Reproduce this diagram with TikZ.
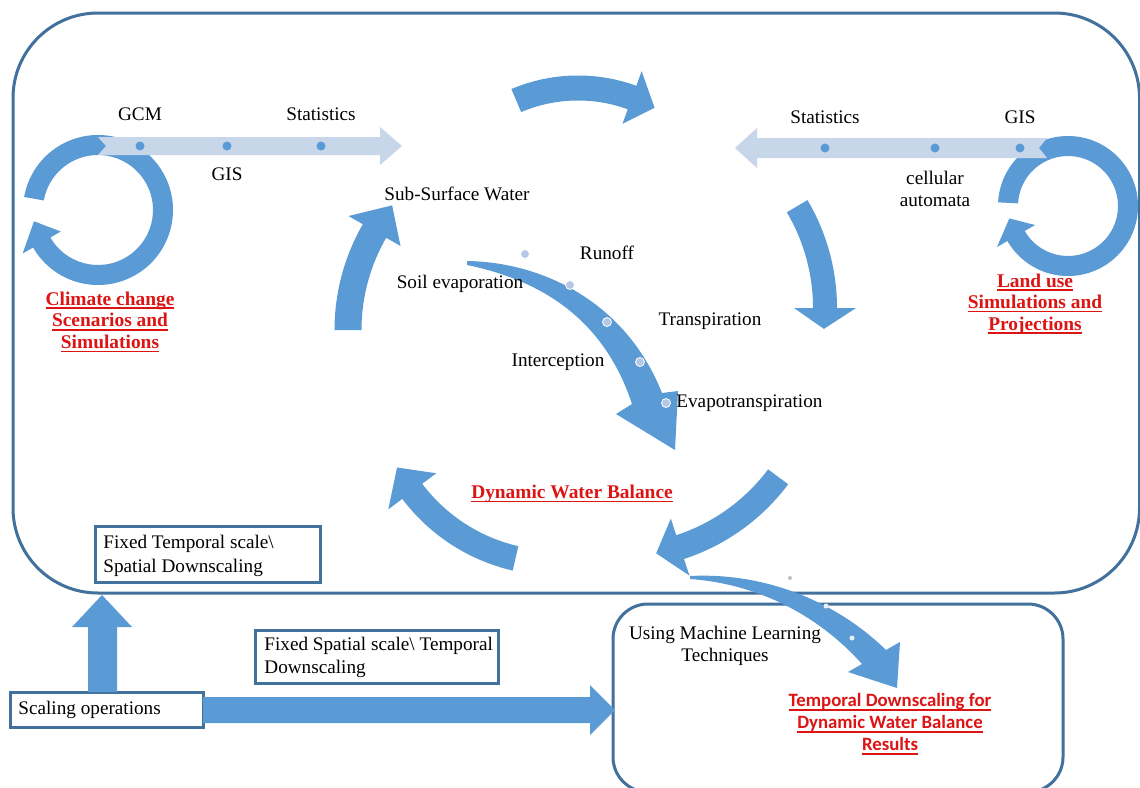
\documentclass[tikz,border=0pt]{standalone}
\usepackage{fontspec}
\setmainfont{Liberation Serif}
\newfontfamily\calfont{Carlito}
\usetikzlibrary{calc}
\definecolor{abl}{RGB}{91,155,213}
\definecolor{bord}{RGB}{65,113,156}
\definecolor{lightarr}{RGB}{200,214,234}
\definecolor{dotpale}{RGB}{180,199,231}
\definecolor{redtxt}{RGB}{220,20,20}
\newcommand\myul[1]{\leavevmode\setbox0\hbox{#1}\rlap{\rule[-1.9pt]{\wd0}{0.8pt}}\box0}
% curved block arrow: cx cy r a1 a2 a3 halfwidth headhalfwidth
\newcommand\bluearc[8]{%
  \fill[abl] ($(#1,#2)+({#4}:{#3+#7})$) arc[start angle={#4}, end angle={#5}, radius={#3+#7}]
  -- ($(#1,#2)+({#5}:{#3+#8})$) -- ($(#1,#2)+({#6}:{#3})$)
  -- ($(#1,#2)+({#5}:{#3-#8})$) -- ($(#1,#2)+({#5}:{#3-#7})$)
  arc[start angle={#5}, end angle={#4}, radius={#3-#7}] -- cycle;}
\tikzset{
  lbl/.style={font=\fontsize{9.6}{11}\selectfont, inner sep=0pt, align=center},
  redlbl/.style={font=\fontsize{9.7}{10.8}\selectfont\bfseries, text=redtxt, inner sep=0pt, align=center},
  callbl/.style={font=\calfont\fontsize{9.4}{11}\selectfont\bfseries, text=redtxt, inner sep=0pt, align=center},
  sqbox/.style={draw=bord, line width=1.5pt, fill=white, inner sep=0pt, outer sep=0pt},
  frame/.style={draw=bord, line width=1.5pt},
  ddot/.style={fill=abl},
  pdot/.style={fill=dotpale, draw=white, line width=0.4pt}
}
\begin{document}
\begin{tikzpicture}[x=0.5pt,y=-0.5pt]
\useasboundingbox (0,0) rectangle (1140,787);
\clip (0,0) rectangle (1140,787);
\fill[white] (0,0) rectangle (1140,787);

% frames
\draw[frame, rounded corners=42.5pt] (13,13) rectangle (1139.5,593);
\draw[frame, rounded corners=17.5pt] (613,604) rectangle (1063,792);

% rings
\bluearc{98}{210}{65}{190}{510}{530}{10}{22}
\bluearc{1068}{206}{60}{183}{510}{528}{10}{22}

% light arrows
\fill[lightarr] (98,137) -- (380,137) -- (380,127) -- (402,146) -- (380,165) -- (380,155) -- (98,155) -- (106,146) -- cycle;
\fill[lightarr] (1047,138) -- (757,138) -- (757,128) -- (735,148) -- (757,168) -- (757,158) -- (1047,158) -- (1039,148) -- cycle;
\foreach \xx in {140,227,321} \fill[ddot] (\xx,146) circle (4.5);
\foreach \xx in {825,935,1020} \fill[ddot] (\xx,148) circle (4.5);

% cycle arrows
\bluearc{578}{246}{158}{-113}{-70}{-61}{12.5}{28}
\bluearc{625}{308}{200}{-30.6}{0}{6}{12}{31}
\bluearc{618}{357}{200}{36.8}{71.9}{79}{12.5}{30}
\bluearc{556}{383}{180}{103}{143}{152}{12.5}{30}
\bluearc{546}{330}{198}{180}{210}{219}{13.5}{30}

% centre tapered arrow
\fill[abl] (467,261) .. controls (540,262) and (625,300) .. (662,393) -- (678,391) -- (675,450)
  -- (616,414) -- (632,404) .. controls (605,322) and (545,281) .. (467,265) -- cycle;
\foreach \p in {(525,254),(570,285),(607,322),(640,362),(666,403)} \filldraw[pdot] \p circle (4.5);

% labels
\node[lbl] (gcm) at (140,114) {GCM};
\node[lbl] (gisl) at (227,174) {GIS};
\node[lbl] (statl) at (321,114) {Statistics};
\node[lbl] (statr) at (825,117) {Statistics};
\node[lbl] (gisr) at (1020,117) {GIS};
\node[lbl] (cell) at (935,189) {cellular\\automata};
\node[lbl] (subs) at (457,194) {Sub-Surface Water};
\node[lbl] (runoff) at (607,253) {Runoff};
\node[lbl] (soil) at (460,284) {Soil evaporation};
\node[lbl] (transp) at (710,321) {Transpiration};
\node[lbl] (interc) at (558,362) {Interception};
\node[lbl, anchor=west] (evap) at (676,403) {Evapotranspiration};

\node[redlbl] (climate) at (110,322) {\myul{Climate change}\\\myul{Scenarios and}\\\myul{Simulations}};
\node[redlbl] (landuse) at (1035,304) {\myul{Land use}\\\myul{Simulations and}\\\myul{Projections}};
\node[redlbl] (dwb) at (572,494) {\myul{Dynamic Water Balance}};

% boxes
\node[sqbox, anchor=north west, minimum width=112.5pt, minimum height=28pt] (ftbox) at (95,526) {};
\node[lbl, anchor=west, align=left, font=\fontsize{9.6}{12}\selectfont] (fttxt) at ($(ftbox.west)+(8,2)$) {Fixed Temporal scale\textbackslash\\Spatial Downscaling};
\node[sqbox, anchor=north west, minimum width=121.5pt, minimum height=26.5pt] (fsbox) at (255,630) {};
\node[lbl, anchor=west, align=left, font=\fontsize{9.6}{11.5}\selectfont] (fstxt) at ($(fsbox.west)+(9,1)$) {Fixed Spatial scale\textbackslash{} Temporal\\Downscaling};
\node[sqbox, anchor=north west, minimum width=96.5pt, minimum height=17.5pt] (scal) at (10,692) {};
\node[lbl, anchor=west] (scaltxt) at ($(scal.west)+(8,0)$) {Scaling operations};

% straight block arrows from the scaling box
\fill[abl] (88,692) -- (88,627) -- (72,627) -- (102,595) -- (132,627) -- (117,627) -- (117,692) -- cycle;
\fill[abl] (203,697) -- (590,697) -- (590,685) -- (615,710) -- (590,735) -- (590,723) -- (203,723) -- cycle;

% bottom-right box contents
\node[lbl] (ml) at (725,646) {Using Machine Learning\\Techniques};
\node[callbl] (tdres) at (890,724) {\myul{Temporal Downscaling for}\\\myul{Dynamic Water Balance}\\\myul{Results}};

% crossing arrow
\fill[abl] (690,576) .. controls (770,572) and (840,605) .. (886,650) -- (900,642) -- (897,688)
  -- (848,672) -- (862,664) .. controls (820,617) and (760,584) .. (690,579) -- cycle;
\fill[gray!50] (790,578) circle (2);
\fill[white!85!abl] (826,606) circle (2.5);
\fill[white!85!abl] (852,638) circle (2.5);
\end{tikzpicture}
\end{document}
